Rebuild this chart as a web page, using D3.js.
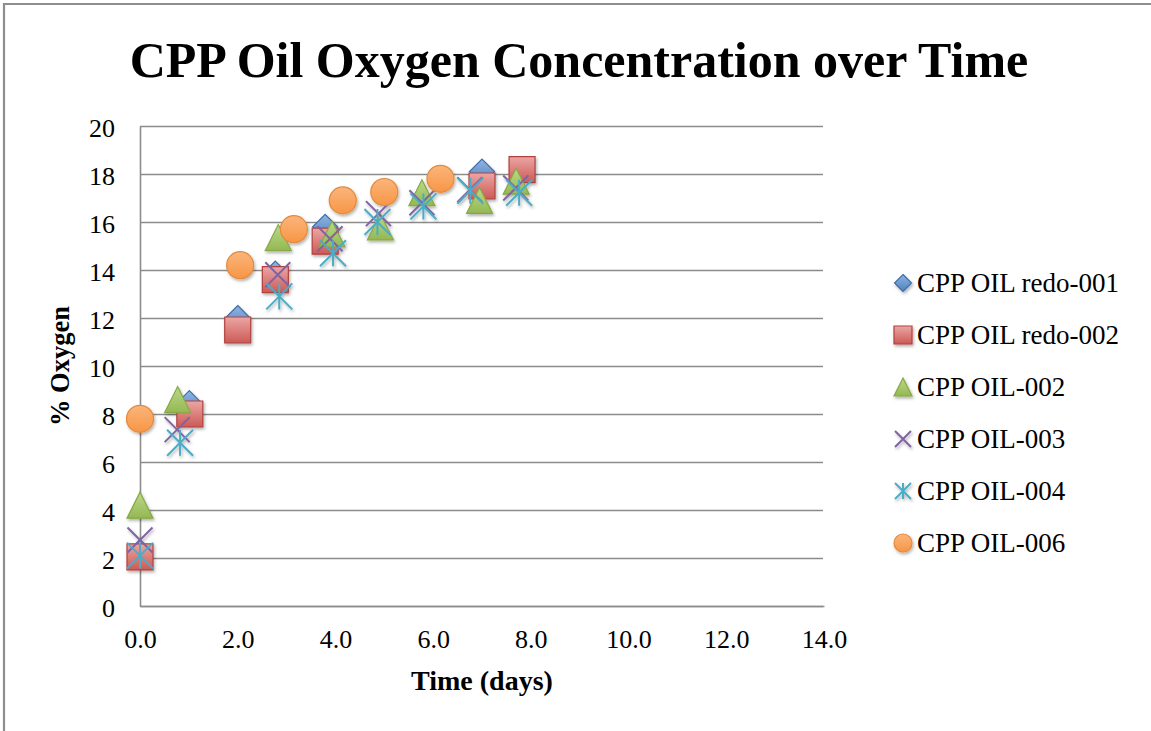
<!DOCTYPE html>
<html>
<head>
<meta charset="utf-8">
<script src="https://cdn.jsdelivr.net/npm/d3@7"></script>
<style>
  html, body { margin: 0; padding: 0; background: #fff; }
  svg { display: block; }
  text { font-family: "Liberation Serif", "Times New Roman", serif; fill: #000; }
</style>
</head>
<body>
<svg id="chart" width="1151" height="731"></svg>
<script>
// ---- data ---------------------------------------------------------------
const chartTitle = "CPP Oil Oxygen Concentration over Time";
const xTitle = "Time (days)";
const yTitle = "% Oxygen";

const xTickValues = [0, 2, 4, 6, 8, 10, 12, 14];
const xTickLabels = ["0.0", "2.0", "4.0", "6.0", "8.0", "10.0", "12.0", "14.0"];
const yTickValues = [0, 2, 4, 6, 8, 10, 12, 14, 16, 18, 20];
const yTickLabels = ["0", "2", "4", "6", "8", "10", "12", "14", "16", "18", "20"];

const seriesNames = ["CPP OIL redo-001", "CPP OIL redo-002", "CPP OIL-002",
                     "CPP OIL-003", "CPP OIL-004", "CPP OIL-006"];

// [days, % oxygen]
const redo001 = [[0, 2.25], [1.01, 8.45], [2.0, 12.0], [2.77, 13.85], [3.79, 15.8], [7.0, 18.1]];
const redo002 = [[0, 2.05], [1.02, 8.0], [2.0, 11.5], [2.77, 13.6], [3.79, 15.2], [7.0, 17.5], [7.82, 18.18]];
const oil002  = [[0, 4.2], [0.77, 8.6], [2.83, 15.35], [3.93, 15.5], [4.92, 15.8], [5.77, 17.22], [6.95, 16.9], [7.7, 17.7]];
const oil003  = [[0, 2.75], [0.76, 7.35], [2.82, 13.8], [3.89, 15.3], [4.88, 16.35], [5.77, 16.8], [6.75, 17.35], [7.69, 17.42]];
const oil004  = [[0, 2.1], [0.82, 6.8], [2.85, 12.9], [3.95, 14.7], [4.86, 16.0], [5.8, 16.65], [6.76, 17.3], [7.76, 17.22]];
const oil006  = [[0, 7.8], [2.05, 14.2], [3.15, 15.7], [4.15, 16.9], [5.0, 17.25], [6.15, 17.8]];

const seriesData = [redo001, redo002, oil002, oil003, oil004, oil006];

// ---- marker shapes (size = full width in px) ------------------------------
const diamondShape = { draw(ctx, s) { const h = s / 2; ctx.moveTo(0, -h); ctx.lineTo(h, 0); ctx.lineTo(0, h); ctx.lineTo(-h, 0); ctx.closePath(); } };
const squareShape  = { draw(ctx, s) { const h = s / 2; ctx.rect(-h, -h, s, s); } };
const triangleShape = { draw(ctx, s) { const h = s / 2; ctx.moveTo(0, -h); ctx.lineTo(h, h); ctx.lineTo(-h, h); ctx.closePath(); } };
const crossShape = { draw(ctx, s) { const h = s / 2; ctx.moveTo(-h, -h); ctx.lineTo(h, h); ctx.moveTo(h, -h); ctx.lineTo(-h, h); } };
const starShape = { draw(ctx, s) { const h = s / 2; ctx.moveTo(-h, -h); ctx.lineTo(h, h); ctx.moveTo(h, -h); ctx.lineTo(-h, h); ctx.moveTo(0, -h); ctx.lineTo(0, h); } };
const circleShape = { draw(ctx, s) { const r = s / 2; ctx.moveTo(r, 0); ctx.arc(0, 0, r, 0, 2 * Math.PI); } };

const styles = [
  { shape: diamondShape,  size: 25, legendSize: 17, top: "#8fb4e3", bottom: "#4f81bd", stroke: "#3f6fa8", filled: true },
  { shape: squareShape,   size: 26, legendSize: 18, top: "#eba6a4", bottom: "#cc5a56", stroke: "#b0413e", filled: true },
  { shape: triangleShape, size: 26, legendSize: 18, top: "#bcd88a", bottom: "#94b852", stroke: "#86a845", filled: true },
  { shape: crossShape,    size: 25, legendSize: 16, stroke: "#8064a2", filled: false },
  { shape: starShape,     size: 26, legendSize: 16, stroke: "#4bacc6", filled: false },
  { shape: circleShape,   size: 27, legendSize: 18, top: "#fbb57c", bottom: "#f79646", stroke: "#e58a3c", filled: true }
];

// ---- layout -------------------------------------------------------------
const svg = d3.select("#chart");
const plot = { left: 140, right: 824, top: 126, bottom: 606 };

const x = d3.scaleLinear().domain([0, 14]).range([plot.left, plot.right]);
const y = d3.scaleLinear().domain([0, 20]).range([plot.bottom, plot.top]);

const defs = svg.append("defs");
const shadow = defs.append("filter").attr("id", "shadow")
  .attr("x", "-50%").attr("y", "-50%").attr("width", "200%").attr("height", "200%");
shadow.append("feDropShadow").attr("dx", 1.2).attr("dy", 2).attr("stdDeviation", 1.5)
  .attr("flood-color", "#000").attr("flood-opacity", 0.3);

styles.forEach((st, i) => {
  if (!st.filled) return;
  const g = defs.append("linearGradient").attr("id", "grad" + i)
    .attr("x1", 0).attr("y1", 0).attr("x2", 0).attr("y2", 1);
  g.append("stop").attr("offset", "0%").attr("stop-color", st.top);
  g.append("stop").attr("offset", "100%").attr("stop-color", st.bottom);
});

// outer chart frame (top and left edges)
svg.append("path")
  .attr("d", "M4,731 V4 H1151")
  .attr("fill", "none").attr("stroke", "#8e8e8e").attr("stroke-width", 2.2);

// title
svg.append("text")
  .attr("x", 579).attr("y", 77)
  .attr("text-anchor", "middle")
  .style("font-size", "50px").style("font-weight", "bold")
  .text(chartTitle);

// horizontal gridlines
svg.append("g")
  .attr("transform", `translate(${plot.left},0)`)
  .call(d3.axisLeft(y).tickValues(yTickValues).tickSize(-(plot.right - 1 - plot.left)).tickFormat(""))
  .call(g => g.select(".domain").remove())
  .call(g => g.selectAll("line").attr("stroke", "#8c8c8c").attr("stroke-width", 1.4));

// y axis line + labels
const yAxis = svg.append("g")
  .attr("transform", `translate(${plot.left},0)`)
  .call(d3.axisLeft(y).tickValues(yTickValues).tickSize(0).tickPadding(25)
    .tickFormat((d, i) => yTickLabels[i]));
yAxis.select(".domain").attr("stroke", "#8c8c8c").attr("stroke-width", 1.6);
yAxis.selectAll("text").attr("dy", "0.42em")
  .style("font-family", "'Liberation Serif', serif").style("font-size", "26px").attr("fill", "#000");

// x axis line + labels
const xAxis = svg.append("g")
  .attr("transform", `translate(0,${plot.bottom})`)
  .call(d3.axisBottom(x).tickValues(xTickValues).tickSize(0).tickPadding(24)
    .tickFormat((d, i) => xTickLabels[i]));
xAxis.select(".domain").attr("stroke", "#8c8c8c").attr("stroke-width", 1.6);
xAxis.selectAll("text")
  .style("font-family", "'Liberation Serif', serif").style("font-size", "26px").attr("fill", "#000");

// axis titles
svg.append("text")
  .attr("x", (plot.left + plot.right) / 2).attr("y", 690)
  .attr("text-anchor", "middle")
  .style("font-size", "28px").style("font-weight", "bold")
  .text(xTitle);

svg.append("text")
  .attr("transform", `translate(69,${(plot.top + plot.bottom) / 2}) rotate(-90)`)
  .attr("text-anchor", "middle")
  .style("font-size", "26.5px").style("font-weight", "bold")
  .text(yTitle);

// markers
const symbolGen = d3.symbol();
function styleMarker(sel, st, i) {
  if (st.filled) {
    sel.attr("fill", `url(#grad${i})`).attr("stroke", st.stroke).attr("stroke-width", 1.2);
  } else {
    sel.attr("fill", "none").attr("stroke", st.stroke).attr("stroke-width", 2);
  }
}

const marks = svg.append("g").attr("filter", "url(#shadow)");
seriesData.forEach((data, i) => {
  const st = styles[i];
  const sel = marks.append("g").selectAll("path").data(data).join("path")
    .attr("transform", d => `translate(${x(d[0])},${y(d[1])})`)
    .attr("d", symbolGen.type(st.shape).size(st.size)());
  styleMarker(sel, st, i);
});

// legend
const legend = svg.append("g");
const legendRows = legend.selectAll("g").data(seriesNames).join("g")
  .attr("transform", (d, i) => `translate(903,${283 + i * 52})`);
legendRows.each(function (name, i) {
  const st = styles[i];
  const m = d3.select(this).append("path")
    .attr("d", d3.symbol().type(st.shape).size(st.legendSize)())
    .attr("filter", "url(#shadow)");
  styleMarker(m, st, i);
  d3.select(this).append("text")
    .attr("x", 14).attr("y", 9)
    .style("font-size", "27px")
    .text(name);
});
</script>
</body>
</html>
